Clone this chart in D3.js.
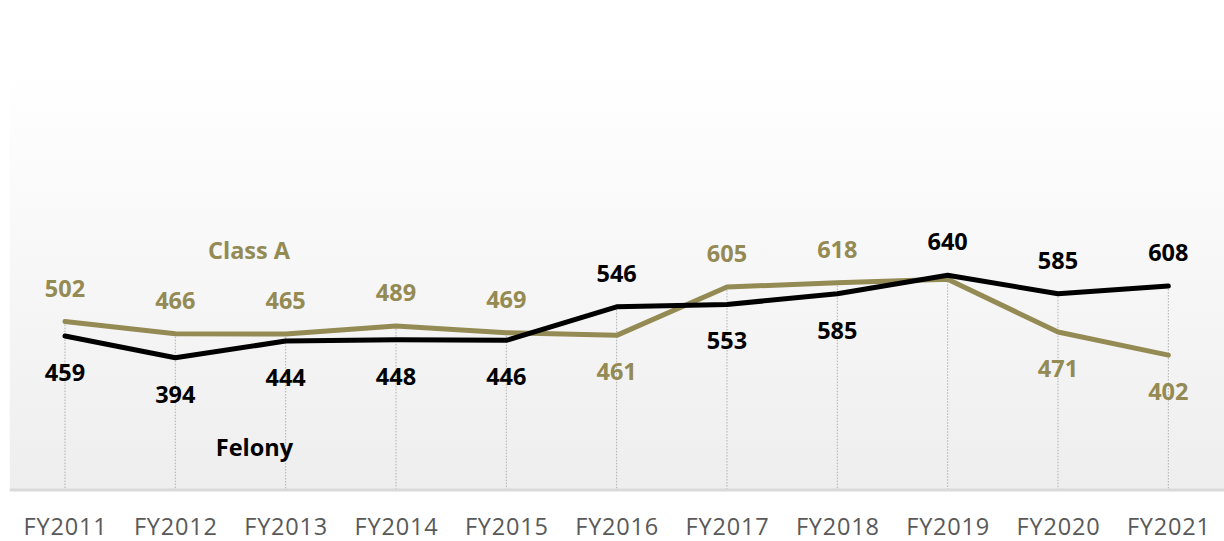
<!DOCTYPE html>
<html>
<head>
<meta charset="utf-8">
<script src="https://cdn.jsdelivr.net/npm/d3@7"></script>
<style>
  html, body { margin: 0; padding: 0; background: #ffffff; }
  svg { display: block; }
</style>
</head>
<body>
<svg id="chart" width="1224" height="541"></svg>
<script>
// ---- data ----
const categories = ["FY2011","FY2012","FY2013","FY2014","FY2015","FY2016","FY2017","FY2018","FY2019","FY2020","FY2021"];
const classA = [502, 466, 465, 489, 469, 461, 605, 618, 628, 471, 402];
const felony = [459, 394, 444, 448, 446, 546, 553, 585, 640, 585, 608];
const seriesNames = ["Class A", "Felony"];

// ---- layout / style ----
const W = 1224, H = 541;
const plot = { left: 9.8, right: 1223.5, top: 73, bottom: 490 };
const olive = "#948A54";
const black = "#000000";
// label placement (a = above, b = below, n = none)
const classAPlace = ["a","a","a","a","a","b","a","a","n","b","b"];
const felonyPlace = ["b","b","b","b","b","a","b","b","a","a","a"];

const svg = d3.select("#chart");

const x = d3.scalePoint().domain(categories).range([plot.left, plot.right]).padding(0.5);
const y = d3.scaleLinear().domain([0, 1200]).range([plot.bottom, plot.bottom - 1200 * 0.3355]);

// background gradient
const defs = svg.append("defs");
const grad = defs.append("linearGradient").attr("id", "bg").attr("x1", 0).attr("y1", 0).attr("x2", 0).attr("y2", 1);
grad.append("stop").attr("offset", "0%").attr("stop-color", "#ffffff");
grad.append("stop").attr("offset", "100%").attr("stop-color", "#eeeeee");
svg.append("rect")
  .attr("x", plot.left).attr("y", plot.top)
  .attr("width", W - plot.left).attr("height", plot.bottom - plot.top)
  .attr("fill", "url(#bg)");

// drop lines
svg.append("g").selectAll("line").data(categories).join("line")
  .attr("x1", d => x(d)).attr("x2", d => x(d))
  .attr("y1", (d, i) => y(Math.max(classA[i], felony[i])))
  .attr("y2", plot.bottom)
  .attr("stroke", "#b0b0b0").attr("stroke-width", 1)
  .attr("stroke-dasharray", "1.5,1.5");

// x axis
const xAxis = d3.axisBottom(x).tickSize(0).tickPadding(0);
const gx = svg.append("g").attr("transform", `translate(0,${plot.bottom})`).call(xAxis);
gx.select(".domain").remove();
svg.append("line")
  .attr("x1", plot.left).attr("x2", W)
  .attr("y1", plot.bottom).attr("y2", plot.bottom)
  .attr("stroke", "#d9d9d9").attr("stroke-width", 3);
gx.selectAll("text")
  .attr("y", 45).attr("dy", null)
  .attr("font-family", "'Open Sans', sans-serif")
  .attr("font-size", 23.5).attr("letter-spacing", "0.8px")
  .attr("fill", "#595959");

// lines
const line = d3.line().x((d, i) => x(categories[i])).y(d => y(d));
svg.append("path").datum(classA).attr("d", line)
  .attr("fill", "none").attr("stroke", olive).attr("stroke-width", 5)
  .attr("stroke-linejoin", "round").attr("stroke-linecap", "round");
svg.append("path").datum(felony).attr("d", line)
  .attr("fill", "none").attr("stroke", black).attr("stroke-width", 5)
  .attr("stroke-linejoin", "round").attr("stroke-linecap", "round");

// data labels
function labels(values, place, color) {
  svg.append("g").selectAll("text")
    .data(values.map((v, i) => ({ v, i, p: place[i] })).filter(d => d.p !== "n"))
    .join("text")
    .attr("x", d => x(categories[d.i]))
    .attr("y", d => d.p === "a" ? y(d.v) - 25 : y(d.v) + 45)
    .attr("text-anchor", "middle")
    .attr("font-family", "'Open Sans', sans-serif")
    .attr("font-weight", 700).attr("font-size", 23.5)
    .attr("fill", color)
    .text(d => d.v);
}
labels(classA, classAPlace, olive);
labels(felony, felonyPlace, black);

// series name labels
svg.append("text").attr("x", 249).attr("y", 259)
  .attr("text-anchor", "middle")
  .attr("font-family", "'Open Sans', sans-serif").attr("font-weight", 700).attr("font-size", 23.5)
  .attr("fill", olive).text(seriesNames[0]);
svg.append("text").attr("x", 254.5).attr("y", 456)
  .attr("text-anchor", "middle")
  .attr("font-family", "'Open Sans', sans-serif").attr("font-weight", 700).attr("font-size", 23.5)
  .attr("fill", black).text(seriesNames[1]);
</script>
</body>
</html>
